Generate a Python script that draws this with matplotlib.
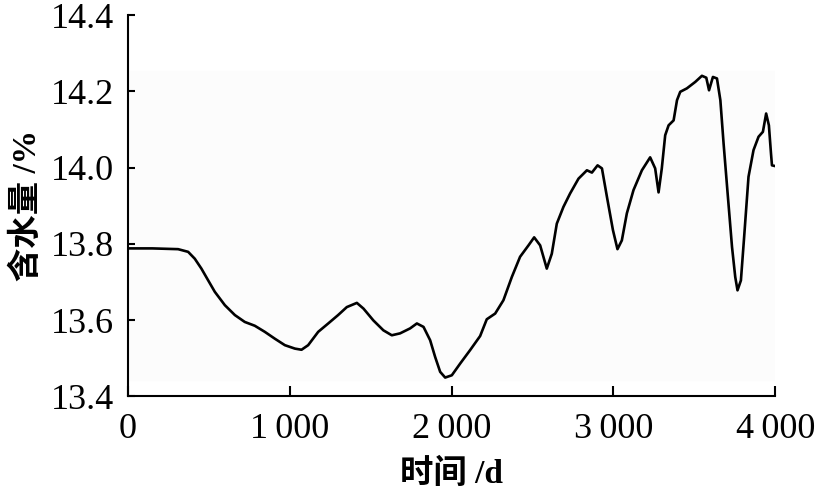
import numpy as np
import matplotlib.pyplot as plt

# 含水量随时间变化
t = [0, 150, 309, 371, 412, 453, 495, 536, 598, 660, 721, 783, 845, 907, 969,
     1031, 1072, 1113, 1175, 1237, 1298, 1352, 1414, 1455, 1516, 1578, 1630, 1681,
     1743, 1785, 1826, 1867, 1898, 1929, 1960, 2001, 2053, 2114, 2176, 2217, 2269,
     2320, 2372, 2423, 2475, 2510, 2547, 2588, 2619, 2650, 2691, 2732, 2784, 2836,
     2867, 2902, 2929, 2960, 2997, 3025, 3052, 3083, 3124, 3176, 3227, 3258, 3279,
     3299, 3320, 3341, 3372, 3393, 3413, 3454, 3506, 3547, 3574, 3591, 3615, 3640,
     3661, 3681, 3706, 3733, 3753, 3767, 3788, 3808, 3835, 3866, 3897, 3924, 3944,
     3961, 3974, 3980, 4000]
w = [13.788, 13.788, 13.786, 13.779, 13.761, 13.735, 13.704, 13.674, 13.639, 13.613,
     13.595, 13.585, 13.569, 13.551, 13.534, 13.525, 13.522, 13.534, 13.569, 13.591,
     13.613, 13.634, 13.645, 13.630, 13.599, 13.573, 13.560, 13.565, 13.578, 13.591,
     13.582, 13.547, 13.503, 13.464, 13.449, 13.455, 13.486, 13.521, 13.558, 13.602,
     13.617, 13.652, 13.713, 13.766, 13.796, 13.817, 13.796, 13.735, 13.774, 13.853,
     13.897, 13.932, 13.971, 13.993, 13.987, 14.006, 13.998, 13.923, 13.836, 13.786,
     13.809, 13.880, 13.941, 13.993, 14.027, 13.998, 13.935, 13.998, 14.085, 14.111,
     14.124, 14.177, 14.199, 14.208, 14.225, 14.241, 14.236, 14.203, 14.238, 14.234,
     14.177, 14.063, 13.932, 13.792, 13.713, 13.678, 13.704, 13.818, 13.976, 14.046,
     14.081, 14.094, 14.142, 14.111, 14.037, 14.006, 14.004]

xticks = [0, 1000, 2000, 3000, 4000]
xlabels = ['0', '1\u2009000', '2\u2009000', '3\u2009000', '4\u2009000']
yticks = [13.4, 13.6, 13.8, 14.0, 14.2, 14.4]

fam = ['Liberation Serif', 'Noto Sans CJK SC', 'DejaVu Sans']
plt.rcParams['font.family'] = fam

fig = plt.figure(figsize=(8.16, 4.91), dpi=100)
ax = fig.add_axes([0.157, 0.193, 0.793, 0.776])

ax.axhspan(13.442, 14.253, color='#fcfcfc', zorder=0)
ax.plot(t, w, color='black', lw=1.9, solid_joinstyle='round')

ax.set_xlim(0, 4000)
ax.set_ylim(13.4, 14.4)
ax.set_xticks(xticks)
ax.set_xticklabels(xlabels)
ax.set_yticks(yticks)
ax.set_yticklabels(['%.1f' % v for v in yticks])

for s in ['top', 'right']:
    ax.spines[s].set_visible(False)
for s in ['left', 'bottom']:
    ax.spines[s].set_linewidth(1.5)

ax.tick_params(axis='both', direction='in', width=1.5, labelsize=26)
ax.tick_params(axis='x', length=7, pad=12)
ax.tick_params(axis='y', length=5, pad=10)

ax.set_xlabel('时间 /d', fontsize=24, labelpad=9, fontweight='bold')
ax.set_ylabel('含水量 /%', fontsize=24, labelpad=6, fontweight='bold')

fig.savefig('out.png', dpi=100)
